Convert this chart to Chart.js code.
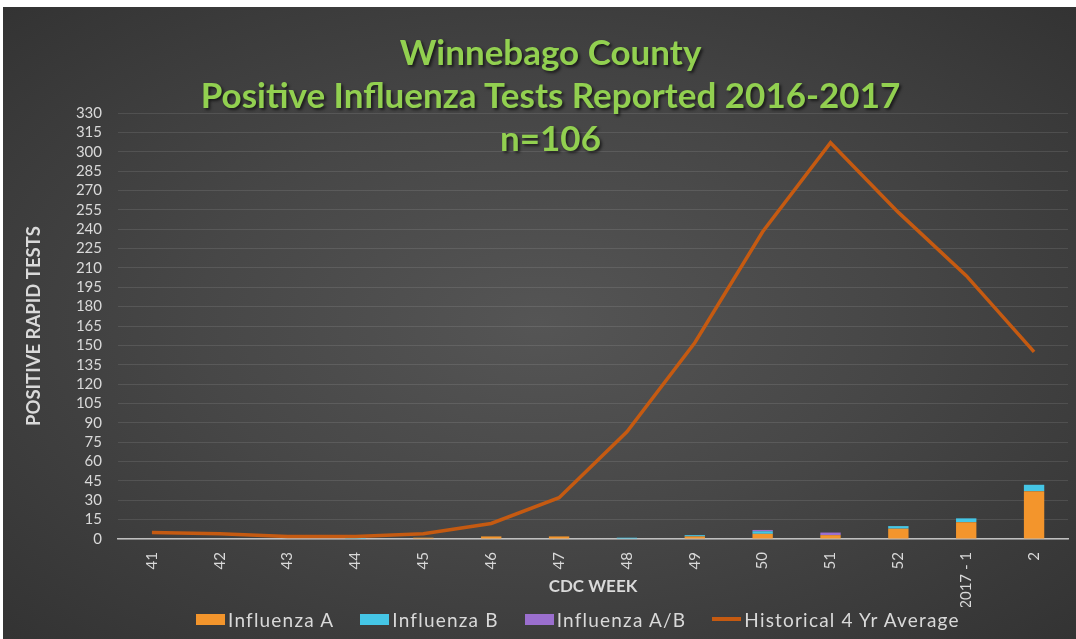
<!DOCTYPE html>
<html>
<head>
<meta charset="utf-8">
<script src="https://cdn.jsdelivr.net/npm/chart.js@4.4.1/dist/chart.umd.min.js"></script>
<style>
  html, body { margin: 0; padding: 0; background: #ffffff; }
  #caja {
    position: absolute; left: 3px; top: 7px; width: 1073px; height: 632px;
    background: radial-gradient(ellipse at 50% 50%, #555555 0%, #474747 45%, #333333 100%);
  }
  #titulo {
    position: absolute; left: 0; top: 23px; width: 1095px; text-align: center;
    font-family: Lato, "Noto Sans", sans-serif; font-weight: bold; font-size: 35px;
    color: #92d050; line-height: 43px; text-shadow: 2px 2px 3px rgba(0,0,0,0.6);
    pointer-events: none;
  }
  #leyenda {
    position: absolute; left: 193px; top: 600px; height: 24px;
    display: flex; align-items: center; white-space: nowrap;
    font-family: Lato, "Noto Sans", sans-serif; font-size: 19px; color: #d9d9d9;
    letter-spacing: 1.2px;
  }
  #leyenda .item { display: flex; align-items: center; margin-right: 26px; }
  #leyenda .caja-color { width: 29px; height: 11px; margin-right: 3px; }
  #leyenda .raya { width: 29px; height: 4px; margin-right: 3px; }
</style>
</head>
<body>
<div id="caja">
  <canvas id="grafico"></canvas>
  <div id="titulo">Winnebago County<br>Positive Influenza Tests Reported 2016-2017<br>n=106</div>
  <div id="leyenda"></div>
</div>
<script>
// semanas CDC
const semanas = ["41", "42", "43", "44", "45", "46", "47", "48", "49", "50", "51", "52", "2017 - 1", "2"];

// pruebas positivas por tipo
const influenzaA  = [0, 0, 0, 0, 1, 2, 2, 0, 2, 4, 3, 8, 13, 37];
const influenzaB  = [0, 0, 0, 1, 0, 0, 0, 1, 1, 2, 0, 2, 3, 5];
const influenzaAB = [0, 0, 0, 0, 0, 0, 0, 0, 0, 1, 2, 0, 0, 0];

// promedio historico de 4 años
const promedio = [5, 4, 2, 2, 4, 12, 32, 83, 152, 238, 307, 253, 204, 145];

const ejeY = { min: 0, max: 330, paso: 15 };

const fuente = 'Lato, "Noto Sans", sans-serif';
const gris = '#d9d9d9';

const grafico = new Chart(document.getElementById('grafico'), {
  data: {
    labels: semanas,
    datasets: [
      {
        type: 'bar', label: 'Influenza A', data: influenzaA,
        backgroundColor: '#f3952c', stack: 'barras', order: 1,
        barPercentage: 0.3, categoryPercentage: 1
      },
      {
        type: 'bar', label: 'Influenza B', data: influenzaB,
        backgroundColor: '#45c6e6', stack: 'barras', order: 1,
        barPercentage: 0.3, categoryPercentage: 1
      },
      {
        type: 'bar', label: 'Influenza A/B', data: influenzaAB,
        backgroundColor: '#9b6fcf', stack: 'barras', order: 1,
        barPercentage: 0.3, categoryPercentage: 1
      },
      {
        type: 'line', label: 'Historical 4 Yr Average', data: promedio,
        borderColor: '#c55a11', backgroundColor: '#c55a11', borderWidth: 3.5,
        pointRadius: 0, tension: 0, stack: 'linea', order: 0
      }
    ]
  },
  options: {
    responsive: true,
    maintainAspectRatio: false,
    animation: false,
    layout: { padding: { top: 106, left: 16, right: 8, bottom: 32 } },
    plugins: {
      tooltip: { enabled: false },
      legend: { display: false }
    },
    scales: {
      x: {
        stacked: true,
        grid: { display: false, drawTicks: false },
        border: { display: true, color: '#bfbfbf', width: 1.5 },
        ticks: {
          color: gris, font: { family: fuente, size: 15 },
          minRotation: 90, maxRotation: 90, padding: 13, autoSkip: false
        },
        title: {
          display: true, text: 'CDC WEEK', color: gris,
          font: { family: fuente, size: 17, weight: 'bold' }, padding: { top: 0, bottom: 10 }
        },
        afterFit: function (scale) { scale.height = 68; }
      },
      y: {
        stacked: true,
        min: ejeY.min, max: ejeY.max,
        grid: { color: 'rgba(255,255,255,0.10)', drawTicks: false },
        border: { display: false },
        ticks: {
          stepSize: ejeY.paso, color: gris, autoSkip: false,
          font: { family: fuente, size: 15 }, padding: 16
        },
        title: {
          display: true, text: 'POSITIVE RAPID TESTS', color: gris,
          font: { family: fuente, size: 18.5, weight: 'bold' }
        },
        afterFit: function (scale) { scale.width = 99; }
      }
    }
  }
});

// leyenda en html con los mismos datasets
const leyenda = document.getElementById('leyenda');
grafico.data.datasets.forEach(ds => {
  const item = document.createElement('div');
  item.className = 'item';
  const marca = document.createElement('span');
  if (ds.type === 'line') {
    marca.className = 'raya';
    marca.style.background = ds.borderColor;
  } else {
    marca.className = 'caja-color';
    marca.style.background = ds.backgroundColor;
  }
  const texto = document.createElement('span');
  texto.textContent = ds.label;
  item.appendChild(marca);
  item.appendChild(texto);
  leyenda.appendChild(item);
});
</script>
</body>
</html>
